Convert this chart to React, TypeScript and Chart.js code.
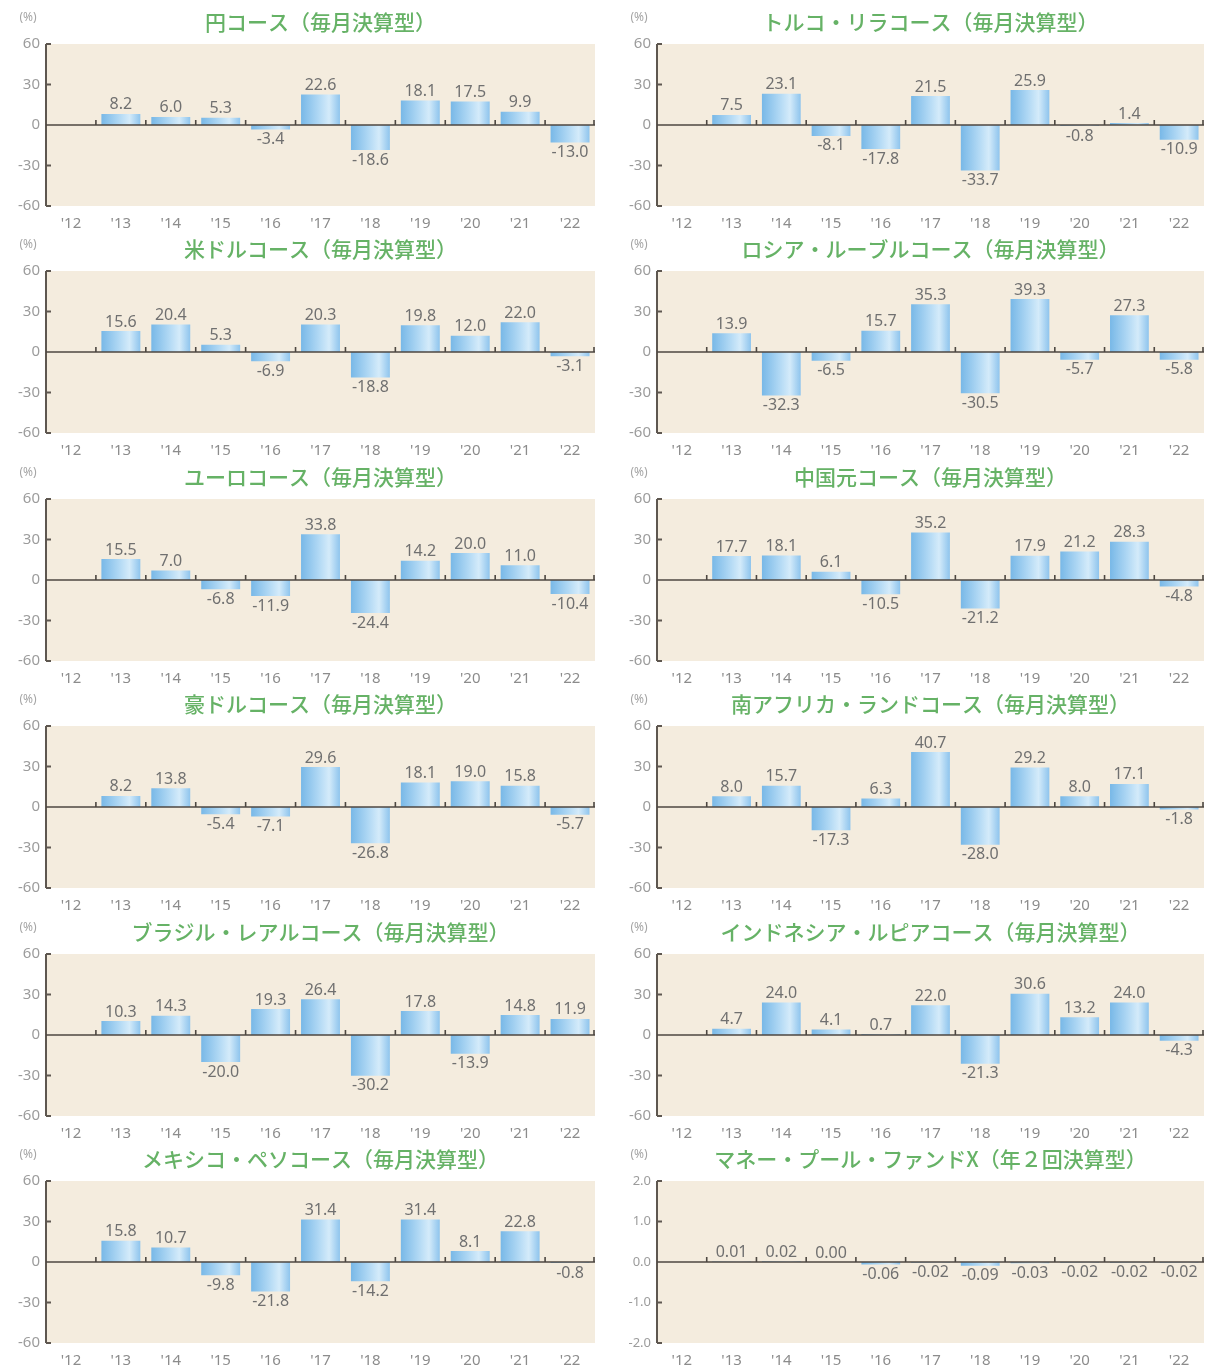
import React, { useEffect, useRef } from "react";
import { Chart, registerables } from "chart.js";

Chart.register(...registerables);

// ---- Data ----
const years = ["'12", "'13", "'14", "'15", "'16", "'17", "'18", "'19", "'20", "'21", "'22"];

const jpyValues = [null, 8.2, 6.0, 5.3, -3.4, 22.6, -18.6, 18.1, 17.5, 9.9, -13.0];
const tryValues = [null, 7.5, 23.1, -8.1, -17.8, 21.5, -33.7, 25.9, -0.8, 1.4, -10.9];
const usdValues = [null, 15.6, 20.4, 5.3, -6.9, 20.3, -18.8, 19.8, 12.0, 22.0, -3.1];
const rubValues = [null, 13.9, -32.3, -6.5, 15.7, 35.3, -30.5, 39.3, -5.7, 27.3, -5.8];
const eurValues = [null, 15.5, 7.0, -6.8, -11.9, 33.8, -24.4, 14.2, 20.0, 11.0, -10.4];
const cnyValues = [null, 17.7, 18.1, 6.1, -10.5, 35.2, -21.2, 17.9, 21.2, 28.3, -4.8];
const audValues = [null, 8.2, 13.8, -5.4, -7.1, 29.6, -26.8, 18.1, 19.0, 15.8, -5.7];
const zarValues = [null, 8.0, 15.7, -17.3, 6.3, 40.7, -28.0, 29.2, 8.0, 17.1, -1.8];
const brlValues = [null, 10.3, 14.3, -20.0, 19.3, 26.4, -30.2, 17.8, -13.9, 14.8, 11.9];
const idrValues = [null, 4.7, 24.0, 4.1, 0.7, 22.0, -21.3, 30.6, 13.2, 24.0, -4.3];
const mxnValues = [null, 15.8, 10.7, -9.8, -21.8, 31.4, -14.2, 31.4, 8.1, 22.8, -0.8];
const mmfValues = [null, 0.01, 0.02, 0.0, -0.06, -0.02, -0.09, -0.03, -0.02, -0.02, -0.02];

const titles = [
  "円コース（毎月決算型）",
  "トルコ・リラコース（毎月決算型）",
  "米ドルコース（毎月決算型）",
  "ロシア・ルーブルコース（毎月決算型）",
  "ユーロコース（毎月決算型）",
  "中国元コース（毎月決算型）",
  "豪ドルコース（毎月決算型）",
  "南アフリカ・ランドコース（毎月決算型）",
  "ブラジル・レアルコース（毎月決算型）",
  "インドネシア・ルピアコース（毎月決算型）",
  "メキシコ・ペソコース（毎月決算型）",
  "マネー・プール・ファンドX（年２回決算型）",
];

const seriesList = [
  jpyValues, tryValues, usdValues, rubValues, eurValues, cnyValues,
  audValues, zarValues, brlValues, idrValues, mxnValues, mmfValues,
];

const pctTicks = [-60, -30, 0, 30, 60];
const mmfTicks = [-2, -1, 0, 1, 2];

// ---- Styling ----
const NUM_FONT = '"Noto Sans", "DejaVu Sans", sans-serif';
const JP_FONT = '"Noto Sans CJK JP", sans-serif';
const BAR_PCT = 0.78;

const decorPlugin = {
  id: "decor",
  beforeDraw(chart: any, _args: any, opts: any) {
    const { ctx, chartArea: a } = chart;
    ctx.save();
    ctx.fillStyle = "#f4ecde";
    ctx.fillRect(a.left, a.top, a.right - a.left, a.bottom - a.top);
    ctx.fillStyle = "#66b266";
    ctx.font = `500 21px ${JP_FONT}`;
    ctx.textAlign = "center";
    ctx.textBaseline = "middle";
    ctx.fillText(opts.title, (a.left + a.right) / 2, 22);
    ctx.fillStyle = "#a5a5a5";
    ctx.font = `12px ${NUM_FONT}`;
    ctx.fillText("(%)", 28, 18);
    ctx.restore();
  },
  afterDatasetsDraw(chart: any, _args: any, opts: any) {
    const { ctx, chartArea: a } = chart;
    const xs = chart.scales.x;
    const ys = chart.scales.y;
    const y0 = ys.getPixelForValue(0);
    ctx.save();
    // y axis line
    ctx.strokeStyle = "#5e5750";
    ctx.lineWidth = 2;
    ctx.beginPath();
    ctx.moveTo(a.left, a.top);
    ctx.lineTo(a.left, a.bottom);
    ys.ticks.forEach((t: any) => {
      if (t.value === 0) return;
      const yy = ys.getPixelForValue(t.value);
      ctx.moveTo(a.left, yy);
      ctx.lineTo(a.left + 5, yy);
    });
    ctx.stroke();
    // zero line
    ctx.strokeStyle = "#4d4741";
    ctx.lineWidth = 1.6;
    ctx.beginPath();
    ctx.moveTo(a.left, y0);
    ctx.lineTo(a.right, y0);
    const n = chart.data.labels.length;
    for (let i = 0; i < n; i++) {
      const bx = i < n - 1 ? (xs.getPixelForValue(i) + xs.getPixelForValue(i + 1)) / 2 : a.right - 1;
      ctx.moveTo(bx, y0 - 5);
      ctx.lineTo(bx, y0 + 0.5);
    }
    ctx.stroke();
    // value labels
    const meta = chart.getDatasetMeta(0);
    const vals = chart.data.datasets[0].data;
    ctx.fillStyle = "#707070";
    ctx.font = `16px ${NUM_FONT}`;
    ctx.textAlign = "center";
    meta.data.forEach((el: any, i: number) => {
      const v = vals[i];
      if (v === null || v === undefined) return;
      const txt = Number(v).toFixed(opts.decimals);
      if (v >= 0) {
        ctx.textBaseline = "bottom";
        ctx.fillText(txt, el.x, Math.min(el.y, y0) - 1);
      } else {
        ctx.textBaseline = "top";
        ctx.fillText(txt, el.x, Math.max(el.y, y0) + 2);
      }
    });
    ctx.restore();
  },
};

function barGradient(c: any) {
  const chart = c.chart;
  const xs = chart.scales && chart.scales.x;
  if (!xs || !chart.chartArea) return "#a9d3f1";
  const cx = xs.getPixelForValue(c.dataIndex);
  const w = (xs.width / chart.data.labels.length) * BAR_PCT;
  const g = chart.ctx.createLinearGradient(cx - w / 2, 0, cx + w / 2, 0);
  g.addColorStop(0, "#78b8e7");
  g.addColorStop(0.45, "#b0d8f4");
  g.addColorStop(0.72, "#d4ebfa");
  g.addColorStop(1, "#8ec4ed");
  return g;
}

type PanelProps = {
  title: string;
  values: (number | null)[];
  tickValues: number[];
  decimals: number;
  tickDecimals: number;
  left: number;
  top: number;
  width: number;
  padRight: number;
  yFontSize: number;
};

const PANEL_H = 240;
const PLOT_BOTTOM = 206;

function Panel(p: PanelProps) {
  const ref = useRef<HTMLCanvasElement | null>(null);
  useEffect(() => {
    if (!ref.current) return;
    const min = p.tickValues[0];
    const max = p.tickValues[p.tickValues.length - 1];
    const step = p.tickValues[1] - p.tickValues[0];
    const chart = new Chart(ref.current, {
      type: "bar",
      data: {
        labels: years,
        datasets: [
          {
            data: p.values as any,
            backgroundColor: barGradient as any,
            borderWidth: 0,
            barPercentage: BAR_PCT,
            categoryPercentage: 1,
          },
        ],
      },
      options: {
        animation: false,
        responsive: false,
        maintainAspectRatio: false,
        events: [],
        layout: { padding: { top: 44, right: p.padRight, left: 0, bottom: 0 } },
        plugins: {
          legend: { display: false },
          tooltip: { enabled: false },
          decor: { title: p.title, decimals: p.decimals },
        } as any,
        scales: {
          x: {
            grid: { display: false, drawTicks: false },
            border: { display: false },
            ticks: { padding: 9, color: "#8c8c8c", font: { family: NUM_FONT, size: 15 } },
            afterFit: (s: any) => {
              s.height = PANEL_H - PLOT_BOTTOM;
            },
          } as any,
          y: {
            min,
            max,
            grid: { display: false, drawTicks: false },
            border: { display: false },
            ticks: {
              stepSize: step,
              padding: 6,
              color: "#9c9c9c",
              font: { family: NUM_FONT, size: p.yFontSize },
              callback: (v: any) => Number(v).toFixed(p.tickDecimals),
            },
            afterFit: (s: any) => {
              s.width = 46;
            },
          } as any,
        },
      },
      plugins: [decorPlugin as any],
    });
    return () => chart.destroy();
  }, []);
  return (
    <div style={{ position: "absolute", left: p.left, top: p.top, width: p.width, height: PANEL_H }}>
      <canvas ref={ref} width={p.width} height={PANEL_H} style={{ display: "block" }} />
    </div>
  );
}

export default function App() {
  return (
    <div
      style={{
        position: "absolute",
        left: 0,
        top: 0,
        width: 1206,
        height: 1369,
        background: "#ffffff",
        overflow: "hidden",
      }}
    >
      {seriesList.map((vals, i) => {
        const row = Math.floor(i / 2);
        const col = i % 2;
        const isMmf = i === 11;
        return (
          <Panel
            key={i}
            title={titles[i]}
            values={vals}
            tickValues={isMmf ? mmfTicks : pctTicks}
            decimals={isMmf ? 2 : 1}
            tickDecimals={isMmf ? 1 : 0}
            left={col === 0 ? 0 : 611}
            top={Math.round(row * 227.4)}
            width={col === 0 ? 601 : 595}
            padRight={col === 0 ? 6 : 2}
            yFontSize={isMmf ? 13 : 15}
          />
        );
      })}
    </div>
  );
}
